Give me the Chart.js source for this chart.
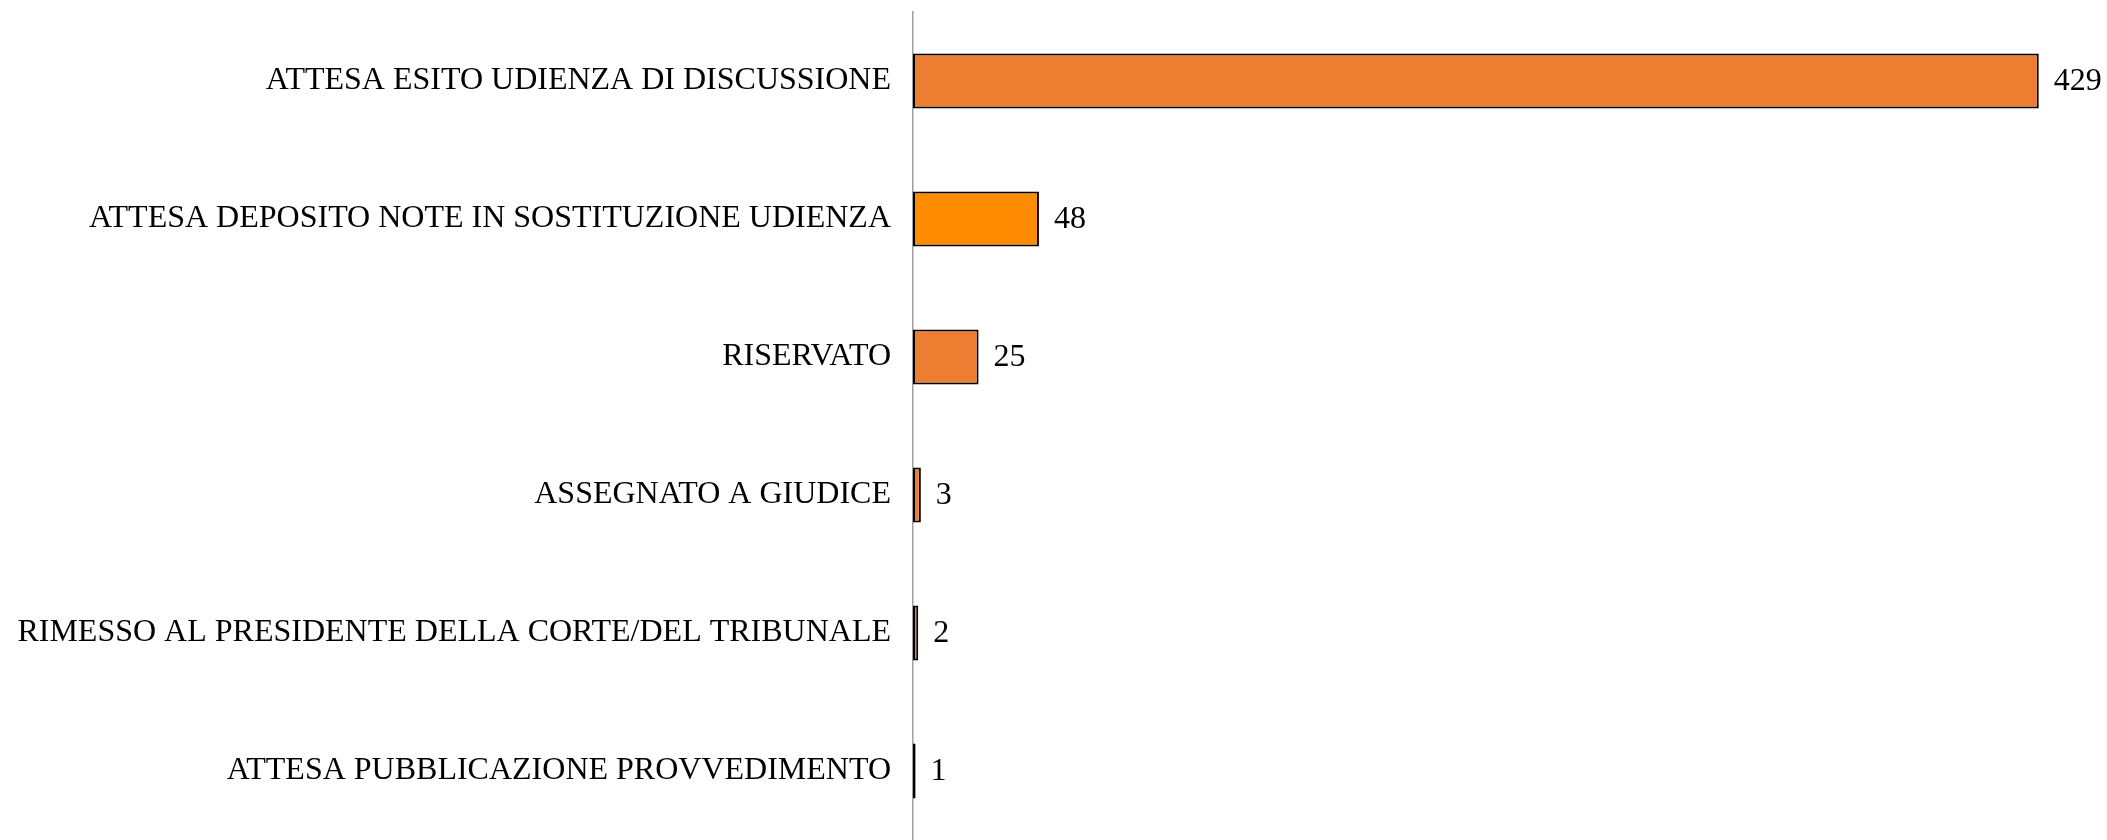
<!DOCTYPE html>
<html>
<head>
<meta charset="utf-8">
<script src="https://cdn.jsdelivr.net/npm/chart.js@4/dist/chart.umd.min.js"></script>
<style>
  html, body { margin: 0; padding: 0; background: #fff; }
  #wrap { width: 2107px; height: 840px; }
</style>
</head>
<body>
<div id="wrap"><canvas id="chart"></canvas></div>
<script>
// data
const categories = [
    'ATTESA ESITO UDIENZA DI DISCUSSIONE',
    'ATTESA DEPOSITO NOTE IN SOSTITUZIONE UDIENZA',
    'RISERVATO',
    'ASSEGNATO A GIUDICE',
    'RIMESSO AL PRESIDENTE DELLA CORTE/DEL TRIBUNALE',
    'ATTESA PUBBLICAZIONE PROVVEDIMENTO'
];
const counts = [429, 48, 25, 3, 2, 1];
const barColors = ['#ED7D31', '#FF8C00', '#ED7D31', '#ED7D31', '#ED7D31', '#ED7D31'];

const FONT = 'Liberation Serif, Times New Roman, serif';

// value labels at the end of each bar
const valueLabels = {
    id: 'valueLabels',
    afterDatasetsDraw(chart) {
        const ctx = chart.ctx;
        const meta = chart.getDatasetMeta(0);
        ctx.save();
        ctx.font = '32px ' + FONT;
        ctx.fillStyle = '#000';
        ctx.textAlign = 'left';
        ctx.textBaseline = 'middle';
        meta.data.forEach((bar, i) => {
            ctx.fillText(String(counts[i]), bar.x + 15, bar.y + 1);
        });
        ctx.restore();
    }
};

const ctx = document.getElementById('chart').getContext('2d');
new Chart(ctx, {
    type: 'bar',
    data: {
        labels: categories,
        datasets: [{
            data: counts,
            backgroundColor: barColors,
            borderColor: '#000',
            borderWidth: 2,
            borderSkipped: false,
            barPercentage: 0.4,
            categoryPercentage: 1.0
        }]
    },
    options: {
        indexAxis: 'y',
        responsive: true,
        maintainAspectRatio: false,
        animation: false,
        layout: { padding: { top: 12, bottom: -5, right: 0, left: 0 } },
        scales: {
            x: { display: false, min: 0, max: 455 },
            y: {
                grid: { display: false, drawTicks: true, tickLength: 22 },
                border: { display: true, color: '#a0a0a0', width: 1.5 },
                ticks: { color: '#000', font: { family: FONT, size: 32 }, padding: 0 },
                afterFit(scale) {
                    scale.width = 913;
                    // no extra room for half label heights
                    scale.paddingTop = 0;
                    scale.paddingBottom = 0;
                }
            }
        },
        plugins: {
            legend: { display: false },
            tooltip: { enabled: false }
        }
    },
    plugins: [valueLabels]
});
</script>
</body>
</html>
